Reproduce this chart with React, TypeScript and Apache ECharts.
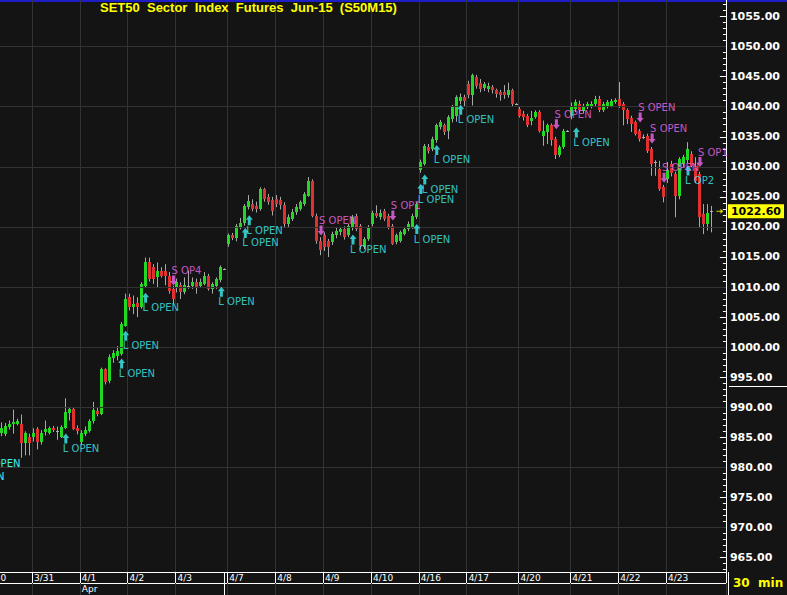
import React, { useEffect, useRef } from "react";
import * as echarts from "echarts";

// ---- data ----
const dayLabels = ["3/31", "4/1", "4/2", "4/3", "4/7", "4/8", "4/9", "4/10", "4/16", "4/17", "4/20", "4/21", "4/22", "4/23"];
const dayStartSlots = [8, 20, 32, 44, 57, 69, 81, 93, 105, 117, 130, 143, 155, 167];
const monthLabels = ["Apr"];
const monthStartSlots = [20];
const slotCount = 182;

const opens = [
  985.7, 985.6, 986.7, 987.3, 987.3, 987.3, 984.0, 985.0, 985.0, 986.4,
  984.2, 985.9, 985.8, 986.6, 986.0, 985.1, 986.6, 989.0, 989.7, 986.5,
  984.2, 985.6, 986.1, 987.7, 989.4, 988.9, 996.3, 994.3, 998.2, 998.6,
  998.9, 1003.6, 1008.3, 1006.6, 1007.3, 1006.6, 1010.2, 1014.1, 1013.3, 1011.6,
  1012.7, 1012.6, 1011.9, 1009.7, 1010.0, 1010.3, 1009.1, 1010.25, 1010.2, 1010.8,
  1010.2, 1010.5, 1011.9, 1009.7, 1010.2, 1011.1, 1013.0, 1017.2, 1018.6, 1018.1,
  1020.0, 1020.6, 1023.3, 1023.8, 1023.5, 1023.0, 1026.3, 1025.0, 1024.4, 1024.7,
  1024.4, 1023.7, 1020.5, 1021.4, 1022.5, 1023.0, 1023.8, 1025.2, 1027.7, 1021.9,
  1017.7, 1018.6, 1017.7, 1017.5, 1018.6, 1019.1, 1019.7, 1018.6, 1020.0, 1021.9,
  1020.2, 1016.6, 1018.0, 1020.5, 1022.4, 1021.6, 1022.7, 1021.9, 1020.2, 1017.5,
  1017.7, 1018.9, 1019.7, 1020.0, 1021.6, 1029.4, 1030.5, 1033.3, 1033.0, 1034.4,
  1036.6, 1036.9, 1036.0, 1038.0, 1038.5, 1041.0, 1041.6, 1043.8, 1041.9, 1044.9,
  1043.9, 1043.1, 1043.0, 1043.2, 1042.7, 1042.4, 1042.4, 1041.9, 1042.7, 1040.5,
  1039.6, 1038.8, 1038.5, 1037.7, 1038.3, 1039.1, 1035.2, 1035.8, 1036.9, 1034.6,
  1031.9, 1033.3, 1036.0, 1038.5, 1039.6, 1040.5, 1039.3, 1039.9, 1040.0, 1040.4,
  1041.3, 1039.4, 1040.0, 1040.2, 1040.7, 1041.3, 1040.5, 1039.4, 1038.2, 1037.4,
  1036.0, 1035.0, 1035.2, 1033.0, 1030.8, 1029.7, 1026.6, 1028.0, 1030.5, 1028.8,
  1025.2, 1030.5, 1031.1, 1032.2, 1030.2, 1028.8, 1022.2, 1020.5, 1022.6,
];
const closes = [
  986.6, 986.9, 987.3, 987.5, 987.7, 984.0, 985.7, 984.0, 985.8, 984.2,
  985.8, 986.4, 986.5, 986.2, 986.0, 986.7, 989.2, 989.7, 986.4, 986.1,
  985.8, 986.3, 987.8, 989.5, 988.8, 996.4, 994.2, 998.3, 999.0, 999.4,
  1003.9, 1008.0, 1006.6, 1007.2, 1006.6, 1010.5, 1014.1, 1011.4, 1011.4, 1012.7,
  1011.9, 1011.8, 1009.4, 1008.0, 1010.8, 1009.1, 1010.3, 1010.25, 1010.8, 1010.0,
  1010.8, 1011.9, 1009.7, 1010.5, 1011.4, 1013.3, 1013.0, 1018.6, 1018.1, 1020.2,
  1020.7, 1023.5, 1024.3, 1023.0, 1023.0, 1026.3, 1024.7, 1024.1, 1022.7, 1023.8,
  1023.7, 1020.5, 1021.6, 1022.5, 1023.3, 1024.1, 1025.5, 1027.7, 1021.9, 1017.7,
  1016.1, 1016.6, 1016.6, 1018.9, 1019.4, 1019.7, 1018.3, 1020.2, 1021.6, 1019.7,
  1016.9, 1018.0, 1020.0, 1022.4, 1021.9, 1022.4, 1021.4, 1019.95, 1017.2, 1018.6,
  1019.1, 1019.7, 1020.5, 1021.9, 1023.8, 1030.8, 1033.5, 1032.7, 1034.6, 1036.9,
  1037.4, 1035.8, 1038.3, 1039.9, 1041.6, 1041.6, 1041.0, 1041.9, 1045.2, 1043.5,
  1043.0, 1043.8, 1043.5, 1042.7, 1042.1, 1041.9, 1041.9, 1042.7, 1040.5, 1040.5,
  1038.5, 1038.3, 1036.9, 1038.2, 1039.1, 1036.0, 1036.0, 1036.9, 1034.4, 1031.9,
  1033.3, 1036.0, 1036.0, 1039.9, 1040.7, 1039.5, 1040.1, 1040.4, 1040.5, 1041.3,
  1039.5, 1040.5, 1040.7, 1040.9, 1041.1, 1040.2, 1039.4, 1038.0, 1037.1, 1035.5,
  1034.6, 1035.0, 1032.7, 1030.5, 1030.8, 1026.3, 1024.9, 1029.5, 1029.0, 1025.2,
  1031.3, 1031.6, 1033.0, 1030.2, 1027.7, 1021.6, 1020.5, 1022.4, 1022.6,
];
const lows = [
  985.2, 985.2, 986.3, 985.6, 987.0, 981.6, 982.0, 982.0, 984.3, 983.0,
  983.8, 985.3, 985.5, 985.9, 984.6, 984.9, 986.4, 987.8, 986.2, 985.5,
  983.8, 985.2, 985.8, 987.3, 988.5, 988.7, 993.8, 994.0, 997.4, 997.8,
  998.6, 1003.4, 1006.1, 1005.5, 1005.0, 1006.4, 1010.0, 1010.9, 1010.5, 1010.0,
  1011.6, 1010.3, 1008.9, 1007.2, 1009.1, 1008.0, 1008.8, 1009.7, 1009.7, 1008.9,
  1010.0, 1010.3, 1009.4, 1008.9, 1009.7, 1010.8, 1012.9, 1016.7, 1017.8, 1017.6,
  1019.6, 1020.2, 1022.9, 1022.6, 1022.4, 1022.7, 1024.2, 1023.7, 1021.9, 1023.3,
  1022.9, 1020.0, 1020.0, 1021.0, 1022.0, 1022.7, 1023.5, 1025.0, 1021.6, 1017.2,
  1015.3, 1016.0, 1015.0, 1017.0, 1018.1, 1018.6, 1017.9, 1018.3, 1019.4, 1019.3,
  1016.3, 1016.3, 1017.7, 1020.1, 1021.5, 1021.2, 1021.0, 1019.6, 1017.0, 1017.1,
  1017.4, 1018.6, 1019.3, 1019.7, 1021.3, 1029.0, 1030.2, 1032.2, 1032.6, 1034.0,
  1036.2, 1035.3, 1034.6, 1037.4, 1037.5, 1040.4, 1040.1, 1041.4, 1040.2, 1043.0,
  1042.4, 1042.6, 1042.4, 1042.2, 1041.5, 1041.0, 1041.3, 1041.5, 1040.0, 1040.4,
  1038.2, 1037.7, 1036.6, 1036.9, 1038.0, 1035.7, 1033.5, 1033.8, 1033.5, 1031.3,
  1031.6, 1033.0, 1035.9, 1037.9, 1039.1, 1039.0, 1038.9, 1039.6, 1039.7, 1040.1,
  1039.1, 1039.1, 1039.7, 1039.9, 1040.5, 1039.8, 1036.9, 1037.1, 1035.8, 1035.2,
  1034.2, 1034.6, 1032.3, 1028.5, 1028.5, 1026.0, 1024.1, 1027.3, 1028.4, 1021.6,
  1024.6, 1030.0, 1030.6, 1029.8, 1027.3, 1020.0, 1018.8, 1019.4, 1019.1,
];
const highs = [
  987.5, 987.4, 987.8, 989.6, 988.1, 988.8, 986.0, 985.6, 986.5, 986.7,
  986.2, 987.8, 986.8, 986.9, 986.8, 987.0, 991.5, 990.0, 990.0, 987.0,
  986.2, 986.8, 988.0, 990.9, 989.9, 996.6, 996.5, 998.8, 999.5, 1000.2,
  1004.2, 1008.9, 1008.9, 1008.6, 1008.3, 1010.8, 1014.9, 1014.9, 1013.8, 1014.1,
  1013.3, 1013.8, 1012.5, 1010.2, 1011.4, 1010.8, 1011.6, 1012.7, 1011.6, 1011.4,
  1011.4, 1012.5, 1012.2, 1010.8, 1011.6, 1013.6, 1013.1, 1018.9, 1019.0, 1020.5,
  1021.5, 1023.8, 1025.3, 1024.6, 1024.2, 1026.6, 1026.5, 1025.5, 1025.0, 1025.3,
  1025.0, 1024.1, 1022.1, 1023.0, 1023.8, 1024.4, 1025.8, 1028.3, 1027.9, 1022.2,
  1018.3, 1019.1, 1018.0, 1019.2, 1019.9, 1020.0, 1020.1, 1020.5, 1022.0, 1022.2,
  1020.5, 1018.3, 1020.3, 1022.7, 1023.6, 1022.9, 1023.0, 1022.2, 1020.5, 1018.9,
  1019.4, 1020.0, 1020.9, 1022.2, 1024.1, 1031.2, 1033.8, 1033.8, 1035.0, 1037.2,
  1037.8, 1037.2, 1038.6, 1040.3, 1041.9, 1042.2, 1042.0, 1044.3, 1045.5, 1045.3,
  1044.6, 1044.1, 1044.0, 1043.6, 1043.0, 1042.8, 1043.6, 1044.0, 1043.0, 1040.6,
  1040.0, 1039.3, 1038.8, 1039.3, 1039.4, 1039.4, 1037.7, 1037.2, 1037.2, 1035.0,
  1033.6, 1036.3, 1036.1, 1040.7, 1041.2, 1041.0, 1040.5, 1040.8, 1040.9, 1041.8,
  1041.8, 1040.8, 1041.1, 1041.3, 1041.4, 1044.1, 1040.8, 1039.7, 1038.5, 1037.7,
  1036.3, 1035.4, 1035.5, 1033.3, 1031.1, 1031.0, 1027.0, 1030.8, 1031.0, 1029.2,
  1031.6, 1032.0, 1034.1, 1032.6, 1031.6, 1029.2, 1023.8, 1023.8, 1023.5,
];

const longSlots = [16, 30, 31, 36, 55, 61, 62, 88, 104, 105, 106, 109, 115, 144, 172];
const longPrices = [984.8, 997.3, 1001.9, 1008.2, 1009.2, 1019.0, 1021.1, 1017.9, 1019.65, 1026.3, 1027.9, 1032.8, 1039.5, 1035.7, 1029.4];
const longTexts = ["L OPEN", "L OPEN", "L OPEN", "L OPEN", "L OPEN", "L OPEN", "L OPEN", "L OPEN", "L OPEN", "L OPEN", "L OPEN", "L OPEN", "L OPEN", "L OPEN", "L OP2"];

const shortSlots = [43, 80, 98, 139, 160, 163, 166, 175];
const shortPrices = [1011.1, 1019.4, 1021.9, 1037.1, 1038.2, 1034.7, 1028.2, 1030.8];
const shortTexts = ["S OP4", "S OPEN", "S OP1", "S OPEN", "S OPEN", "S OPEN", "S OPEN", "S OP1"];

const priceLabels = [965, 970, 975, 980, 985, 990, 995, 1000, 1005, 1010, 1015, 1020, 1025, 1030, 1035, 1040, 1045, 1050, 1055];
const gridLevels = [970, 980, 990, 1000, 1010, 1020, 1030, 1040, 1050];
const lastPrice = 1022.6;
const lastPriceSlot = 180;
const titleText = "SET50  Sector  Index  Futures  Jun-15  (S50M15)";
const periodText = "30  min";

const Y_MIN = 962.6;
const Y_MAX = 1057.75;

const BG = "#141414";
const GRID = "#333333";
const GREEN = "#22d822";
const RED = "#e23030";
const WICK = "#a8a8a8";
const DOJI = "#b0b0b0";
const CYAN = "#3ef0f0";
const MAGENTA = "#f06af0";
const YELLOW = "#ffff00";

const UP_ARROW = "path://M3.5,0 L7,4.5 L5,4.5 L5,10 L2,10 L2,4.5 L0,4.5 Z";
const DOWN_ARROW = "path://M3.5,10 L7,5.5 L5,5.5 L5,0 L2,0 L2,5.5 L0,5.5 Z";
const RIGHT_ARROW = "path://M0,2 L4,2 L4,0 L7,2.5 L4,5 L4,3 L0,3 Z";

export default function App() {
  const ref = useRef<HTMLDivElement>(null);

  useEffect(() => {
    if (!ref.current) return;
    const chart = echarts.init(ref.current, null, { renderer: "svg" });

    const cats: string[] = [];
    for (let i = 0; i < slotCount; i++) cats.push(String(i));
    const dayLabelAt: Record<number, string> = {};
    dayStartSlots.forEach((s, i) => (dayLabelAt[s] = dayLabels[i]));
    const monthLabelAt: Record<number, string> = {};
    monthStartSlots.forEach((s, i) => (monthLabelAt[s] = monthLabels[i]));
    const isDay = (i: number) => dayLabelAt[i] !== undefined;

    const minorTicks: number[] = [];
    for (let v = Math.ceil(Y_MIN); v <= Math.floor(Y_MAX); v++) minorTicks.push(v);

    const bars = opens.map((o, i) => [i, o, closes[i], lows[i], highs[i]]);

    const yBase = {
      type: "value",
      position: "right",
      min: Y_MIN,
      max: Y_MAX,
      splitLine: { show: false },
    };

    const option: any = {
      animation: false,
      backgroundColor: BG,
      title: {
        text: titleText,
        left: 100,
        top: 1,
        padding: 0,
        textStyle: { color: YELLOW, fontFamily: "Liberation Sans", fontWeight: "bold", fontSize: 13 },
      },
      grid: { left: 0, right: 59, top: 0, bottom: 23, containLabel: false },
      xAxis: [
        {
          type: "category",
          data: cats,
          position: "bottom",
          boundaryGap: true,
          axisLine: { show: true, lineStyle: { color: "#ffffff", width: 1 } },
          axisTick: { show: true, interval: (i: number) => isDay(i), length: 11, lineStyle: { color: "#ffffff" } },
          axisLabel: {
            show: true,
            interval: (i: number) => isDay(i),
            formatter: (_v: string, i: number) => dayLabelAt[i] || "",
            color: "#ffffff",
            fontFamily: "DejaVu Sans",
            fontSize: 9,
            align: "left",
            margin: 1,
          },
          splitLine: { show: true, interval: (i: number) => isDay(i), lineStyle: { color: GRID, width: 1 } },
        },
        {
          type: "category",
          data: cats,
          position: "bottom",
          offset: 11,
          boundaryGap: true,
          axisLine: { show: true, lineStyle: { color: "#ffffff", width: 1 } },
          axisTick: { show: true, interval: (i: number) => isDay(i), length: 12, lineStyle: { color: GRID } },
          axisLabel: {
            show: true,
            interval: (i: number) => monthLabelAt[i] !== undefined,
            formatter: (_v: string, i: number) => monthLabelAt[i] || "",
            color: "#ffffff",
            fontFamily: "DejaVu Sans",
            fontSize: 9,
            align: "left",
            margin: 1,
          },
          splitLine: { show: false },
        },
      ],
      yAxis: [
        {
          ...yBase,
          axisLine: { show: true, lineStyle: { color: "#ffffff", width: 1 } },
          axisTick: { show: true, inside: true, length: 3, customValues: minorTicks, lineStyle: { color: "#ffffff" } },
          axisLabel: { show: false },
        },
        {
          ...yBase,
          axisLine: { show: false },
          axisTick: { show: true, inside: true, length: 6, customValues: priceLabels, lineStyle: { color: "#ffffff" } },
          axisLabel: {
            show: true,
            customValues: priceLabels,
            formatter: (v: number) => v.toFixed(2),
            color: "#ffffff",
            fontFamily: "DejaVu Sans",
            fontWeight: "bold",
            fontSize: 11,
            margin: 4,
          },
        },
        {
          ...yBase,
          axisLine: { show: false },
          axisTick: { show: false },
          axisLabel: {
            show: true,
            customValues: [lastPrice],
            formatter: (v: number) => v.toFixed(2),
            color: "#000000",
            backgroundColor: YELLOW,
            padding: [2, 3, 1, 3],
            fontFamily: "DejaVu Sans",
            fontWeight: "bold",
            fontSize: 11,
            margin: 2,
          },
        },
      ],
      series: [
        {
          type: "line",
          data: [],
          silent: true,
          z: 1,
          markLine: {
            silent: true,
            symbol: ["none", "none"],
            label: { show: false },
            lineStyle: { color: GRID, width: 1, type: "solid" },
            emphasis: { disabled: true },
            data: gridLevels.map((v) => ({ yAxis: v })),
          },
        },
        {
          type: "custom",
          z: 3,
          clip: true,
          data: bars,
          encode: { x: 0, y: [1, 2, 3, 4] },
          renderItem: (_params: any, api: any) => {
            const idx = api.value(0);
            const o = api.value(1);
            const c = api.value(2);
            const l = api.value(3);
            const h = api.value(4);
            const top = api.coord([idx, Math.max(o, c)]);
            const bot = api.coord([idx, Math.min(o, c)]);
            const hi = api.coord([idx, h]);
            const lo = api.coord([idx, l]);
            const band = api.size([1, 0])[0];
            const left = Math.round(top[0] - band / 2);
            const wickX = left + 1.5;
            const color = c > o ? GREEN : c < o ? RED : DOJI;
            const yTop = Math.round(top[1]);
            let yBot = Math.round(bot[1]);
            if (yBot - yTop < 1) yBot = yTop + 1;
            return {
              type: "group",
              children: [
                { type: "line", shape: { x1: wickX, y1: hi[1], x2: wickX, y2: lo[1] }, style: { stroke: WICK, lineWidth: 1 } },
                { type: "rect", shape: { x: left, y: yTop, width: band - 1, height: yBot - yTop }, style: { fill: color } },
              ],
            };
          },
        },
        {
          type: "scatter",
          z: 5,
          data: longSlots.map((s, i) => [s, longPrices[i]]),
          symbol: UP_ARROW,
          symbolSize: [7, 10],
          itemStyle: { color: CYAN },
          label: {
            show: true,
            position: "bottom",
            distance: 0,
            align: "left",
            offset: [-3, 0],
            formatter: (p: any) => longTexts[p.dataIndex],
            color: CYAN,
            fontFamily: "DejaVu Sans",
            fontSize: 10,
          },
        },
        {
          type: "scatter",
          z: 5,
          data: shortSlots.map((s, i) => [s, shortPrices[i]]),
          symbol: DOWN_ARROW,
          symbolSize: [7, 10],
          itemStyle: { color: MAGENTA },
          label: {
            show: true,
            position: "top",
            distance: 0,
            align: "left",
            offset: [-2, 0],
            formatter: (p: any) => shortTexts[p.dataIndex],
            color: MAGENTA,
            fontFamily: "DejaVu Sans",
            fontSize: 10,
          },
        },
        {
          type: "scatter",
          z: 5,
          data: [[lastPriceSlot, lastPrice]],
          symbol: RIGHT_ARROW,
          symbolSize: [7, 5],
          itemStyle: { color: YELLOW },
        },
      ],
      graphic: [
        { type: "rect", shape: { x: 0, y: 0, width: 787, height: 2 }, style: { fill: "#1e1ec8" }, silent: true },
        { type: "line", shape: { x1: 728.5, y1: 572, x2: 728.5, y2: 595 }, style: { stroke: "#ffffff", lineWidth: 1 }, silent: true },
        { type: "line", shape: { x1: 224.5, y1: 572, x2: 224.5, y2: 595 }, style: { stroke: "#ffffff", lineWidth: 1 }, silent: true },
        { type: "line", shape: { x1: 729, y1: 386.5, x2: 787, y2: 386.5 }, style: { stroke: "#ffffff", lineWidth: 1 }, silent: true },
        {
          type: "text",
          x: -14,
          y: 573,
          silent: true,
          style: { text: "3/30", fill: "#ffffff", font: '9px "DejaVu Sans"', verticalAlign: "top" },
        },
        {
          type: "text",
          x: -16,
          y: 458,
          silent: true,
          style: { text: "L OPEN", fill: CYAN, font: '10px "DejaVu Sans"', verticalAlign: "top" },
        },
        {
          type: "text",
          x: -32,
          y: 471,
          silent: true,
          style: { text: "L OPEN", fill: CYAN, font: '10px "DejaVu Sans"', verticalAlign: "top" },
        },
        {
          type: "text",
          x: 733,
          y: 583,
          silent: true,
          style: { text: periodText, fill: YELLOW, font: 'bold 12px "DejaVu Sans"', verticalAlign: "middle" },
        },
      ],
    };

    chart.setOption(option);
    return () => chart.dispose();
  }, []);

  return <div ref={ref} style={{ position: "fixed", left: 0, top: 0, width: 787, height: 595 }} />;
}
